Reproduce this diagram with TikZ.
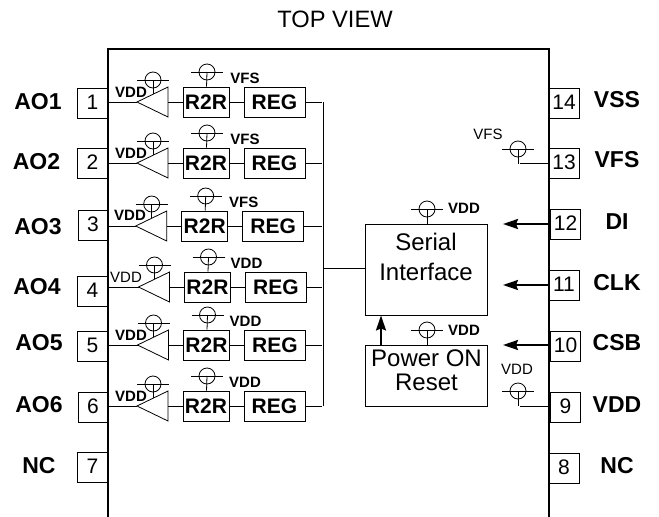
\documentclass[tikz,border=0pt]{standalone}
\usepackage{fontspec}
\setmainfont{Liberation Sans}
\usetikzlibrary{arrows.meta}
\tikzset{
	pinbox/.style={draw,line width=0.9pt,minimum width=30pt,minimum height=30pt,inner sep=0pt,text height=15pt,text depth=3pt,font=\fontsize{21}{21}\selectfont},
	pinname/.style={font=\fontsize{23}{23}\selectfont\bfseries,inner sep=0pt},
	blockbox/.style={draw,line width=0.9pt,minimum height=30pt,inner sep=0pt,font=\fontsize{21}{21}\selectfont\bfseries},
	bigbox/.style={draw,line width=0.9pt,minimum width=122pt,inner sep=0pt},
	bigtext/.style={inner sep=0pt,align=center,font=\fontsize{24}{24}\selectfont},
	smallbold/.style={font=\fontsize{15}{15}\selectfont\bfseries,inner sep=0pt},
	smallplain/.style={font=\fontsize{15}{15}\selectfont,inner sep=0pt},
	wire/.style={line width=0.8pt},
	bigarrow/.style={line width=2.2pt,-{Stealth[length=15pt,width=10pt,inset=2pt]}},
	supply/.pic={
		\draw[wire] (0,0) circle (8);
		\draw[wire] (-16,0) -- (16,0);
		\coordinate (-c) at (0,0);
	}
}
\begin{document}
\begin{tikzpicture}[x=1pt,y=-1pt]
\useasboundingbox (0,0) rectangle (659,517);
\node[font=\fontsize{23.7}{23.7}\selectfont,inner sep=0pt] (title) at (335,19) {TOP VIEW};
\draw[line width=1.2pt] (108,517) -- (108,49) -- (549,49) -- (549,517);

% pins on the left
\foreach \n/\bx/\by/\lx/\ly/\name in {1/92.5/103/38/102/AO1,2/92.5/163/36.5/162/AO2,3/93/225/38/227/AO3,4/92.5/291.5/37/287/AO4,5/92.5/346/39/343/AO5,6/93/407/39/405/AO6,7/92.5/467/39/466/NC}{
	\node[pinbox] (pin\n) at (\bx,\by) {\n};
	\node[pinname] (name\n) at (\lx,\ly) {\name};
}
% pins on the right
\foreach \n/\bx/\by/\lx/\ly/\name in {14/564/103/617/100/VSS,13/564/163/617/160/VFS,12/565.5/224.5/617/222/DI,11/564/285/617/283/CLK,10/565.5/346/617/343/CSB,9/565.5/407/617/405/VDD,8/564/468/617/466/NC}{
	\node[pinbox] (pin\n) at (\bx,\by) {\n};
	\node[pinname] (name\n) at (\lx,\ly) {\name};
}

% the six channels
\foreach \n/\dx/\y/\rail/\sty/\vx/\vy in {1/0/102/VFS/smallbold/131/92,2/0/163/VFS/smallbold/131/153,3/-1.3/226/VFS/smallbold/130/215,4/1.5/287/VDD/smallplain/126/277,5/0.5/345/VDD/smallbold/131/335,6/0/406/VDD/smallbold/131/396}{
	\coordinate (tip\n) at (137+\dx,\y);
	\coordinate (top\n) at (168+\dx,\y-15);
	\coordinate (bot\n) at (168+\dx,\y+15);
	\coordinate (back\n) at (168+\dx,\y);
	\coordinate (foot\n) at (153+\dx,\y-8);
	\node[blockbox,minimum width=46pt] (rtr\n) at (206+\dx,\y) {R2R};
	\node[blockbox,minimum width=61pt] (reg\n) at (274.5+\dx,\y) {REG};
	\coordinate (bus\n) at (322,\y);
	\draw[wire] (tip\n) -- (top\n) -- (bot\n) -- cycle;
	\draw[wire] (tip\n) -- (tip\n -| pin\n.east);
	\draw[wire] (back\n) -- (rtr\n);
	\draw[wire] (rtr\n) -- (reg\n);
	\draw[wire] (reg\n) -- (bus\n);
	\pic (va\n) at (153+\dx,\y-22) {supply};
	\draw[wire] (va\n-c) -- (foot\n);
	\pic (vb\n) at (207+\dx,\y-30) {supply};
	\draw[wire] (vb\n-c) -- (rtr\n);
	\node[smallbold] (vbl\n) at (245+\dx,\y-24) {\rail};
	\node[\sty] (val\n) at (\vx,\vy) {VDD};
}
\draw[wire] (323,102) -- (323,406);

% serial interface and reset
\node[bigbox,minimum height=91pt] (serial) at (426,269.5) {};
\node[bigtext] (serialtext) at (426,257) {Serial\\[6pt]Interface};
\node[bigbox,minimum height=61pt] (por) at (426,375.5) {};
\node[bigtext] (portext) at (426.5,370) {Power ON\\Reset};
\coordinate (buslink) at (323,268);
\draw[wire] (buslink) -- (buslink -| serial.west);
\coordinate (porout) at (381,345);
\draw[bigarrow] (porout) -- (porout |- serial.south);
\pic (vs) at (427,209) {supply};
\draw[wire] (vs-c) -- (vs-c |- serial.north);
\node[smallbold] (vsl) at (464,208) {VDD};
\pic (vp) at (427,330) {supply};
\draw[wire] (vp-c) -- (vp-c |- por.north);
\node[smallbold] (vpl) at (464,330) {VDD};

% inputs
\foreach \n/\y in {12/224,11/285,10/345}{
	\coordinate (in\n) at (549,\y);
	\coordinate (to\n) at (503,\y);
	\draw[bigarrow] (in\n) -- (to\n);
}

% supply pins
\pic (vf) at (518,149) {supply};
\coordinate (vfc) at (518,164);
\coordinate (vfp) at (549,163);
\draw[wire] (vf-c) -- (vfc);
\draw[wire] (vfp) -- (520,163);
\node[smallplain] (vfl) at (488,134) {VFS};
\pic (vd) at (518,391) {supply};
\coordinate (vdc) at (518,406);
\coordinate (vdp) at (549,406);
\draw[wire] (vd-c) -- (vdc);
\draw[wire] (vdp) -- (520,406);
\node[smallplain] (vdl) at (517,369) {VDD};
\end{tikzpicture}
\end{document}
